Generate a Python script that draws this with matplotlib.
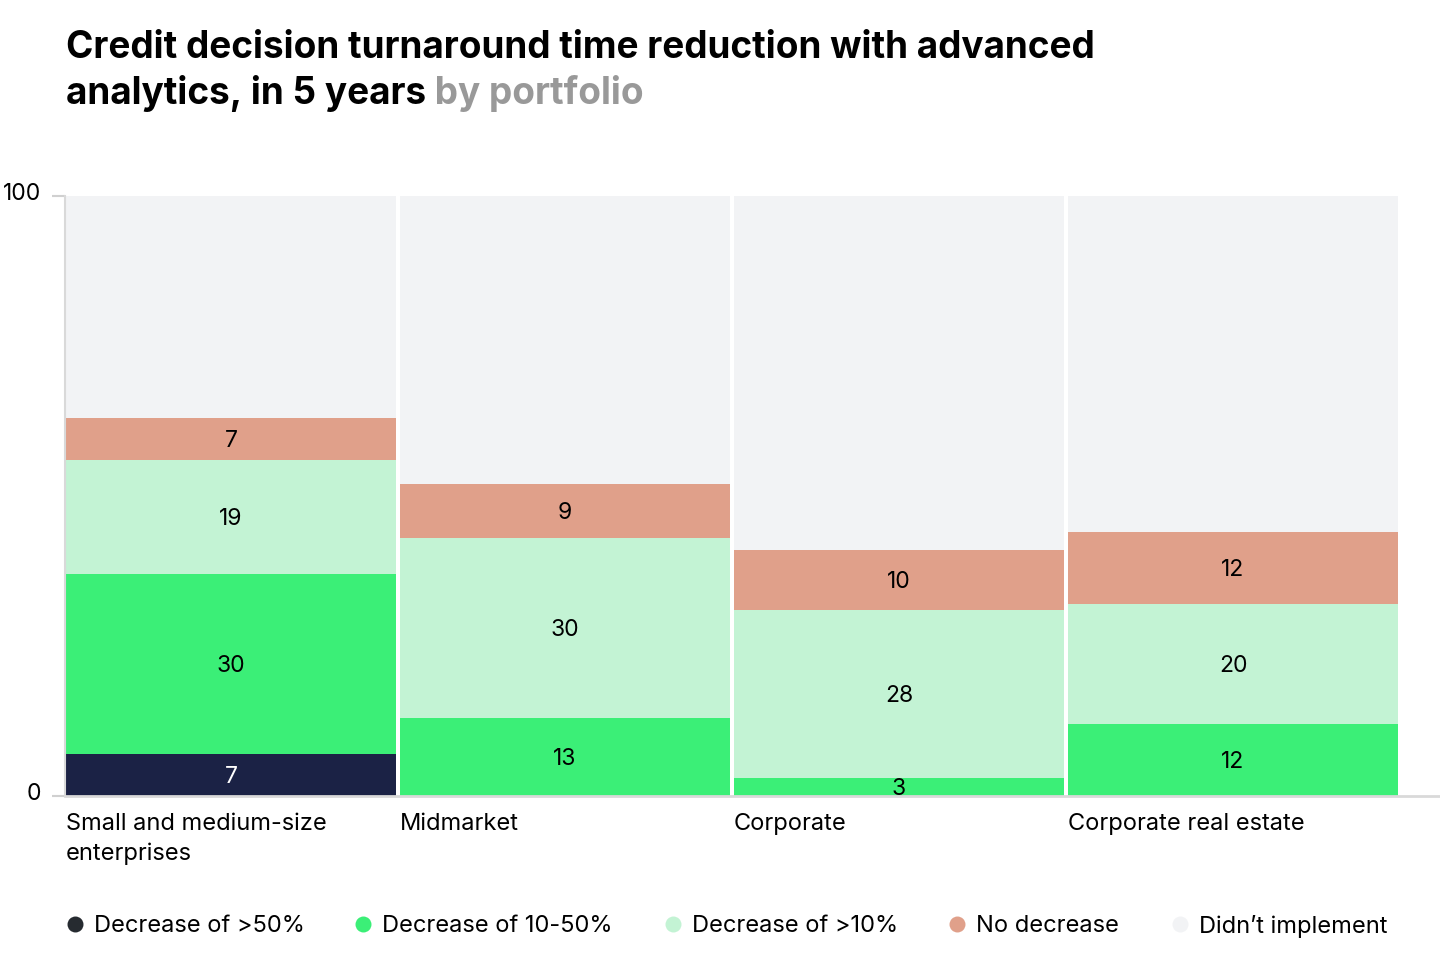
import matplotlib
matplotlib.use("Agg")
import matplotlib.pyplot as plt
import numpy as np
from matplotlib.transforms import ScaledTranslation

plt.rcParams['font.family'] = ['Inter', 'DejaVu Sans']

categories = ["Small and medium-size\nenterprises", "Midmarket", "Corporate", "Corporate real estate"]
series_names = ["Decrease of >50%", "Decrease of 10-50%", "Decrease of >10%", "No decrease", "Didn\u2019t implement"]
dec_gt50 = [7, 0, 0, 0]
dec_10_50 = [30, 13, 3, 12]
dec_lt10 = [19, 30, 28, 20]
no_decrease = [7, 9, 10, 12]
didnt_implement = [37, 48, 59, 56]
series = [dec_gt50, dec_10_50, dec_lt10, no_decrease, didnt_implement]

colors = ["#1b2245", "#3bef77", "#c3f3d4", "#e0a08a", "#f2f3f5"]
legend_colors = ["#262b30", "#3bef77", "#c3f3d4", "#e0a08a", "#f2f3f5"]
label_colors = ["white", "black", "black", "black", None]

W, H = 1440, 968
fig = plt.figure(figsize=(W / 100, H / 100), dpi=100)
ax = fig.add_axes([65 / W, 172 / H, (W - 65) / W, 600 / H])

down2 = ScaledTranslation(0, -2 / 100, fig.dpi_scale_trans)

x = np.arange(len(categories))
width = 330 / 334
bottom = np.zeros(len(categories))
for vals, c, lc in zip(series, colors, label_colors):
    vals = np.array(vals, dtype=float)
    ax.bar(x, vals, width=width, bottom=bottom, color=c, linewidth=0, zorder=2)
    if lc is not None:
        for xi, b, v in zip(x, bottom, vals):
            if v > 0:
                ax.text(xi, b + v / 2, f"{int(v)}", ha="center", va="center",
                        fontsize=16.5, color=lc, zorder=3,
                        transform=ax.transData + down2)
    bottom += vals

ax.set_xlim(-166 / 334, 3 + 207 / 334)
ax.set_ylim(0, 100)

for s in ["top", "right"]:
    ax.spines[s].set_visible(False)
ax.spines["left"].set_color("#d9d9d9")
ax.spines["left"].set_linewidth(1.5)
ax.spines["bottom"].set_color("#d9d9d9")
ax.spines["bottom"].set_linewidth(2)

ax.set_yticks([0, 100])
ax.set_yticklabels(["0", "100"])
ax.tick_params(axis="y", length=9.5, width=1.5, color="#d0d0d0", pad=8, labelsize=16.5)
for lab in ax.get_yticklabels():
    lab.set_transform(lab.get_transform() + ScaledTranslation(0, 5 / 100, fig.dpi_scale_trans))

ax.set_xticks(x - width / 2)
ax.set_xticklabels(categories, ha="left", fontsize=17, linespacing=1.45)
ax.tick_params(axis="x", length=0, pad=12)

# Title
fig.text(66 / W, 1 - 48 / H, "Credit decision turnaround time reduction with advanced",
         fontsize=26.6, fontweight="bold", va="center", ha="left", color="black")
t2 = fig.text(66 / W, 1 - 94 / H, "analytics, in 5 years", fontsize=26.6, fontweight="bold",
              va="center", ha="left", color="black")
ax.annotate(" by portfolio", xy=(1, 0), xycoords=t2, va="bottom", ha="left",
            fontsize=26.6, fontweight="bold", color="#999999", annotation_clip=False)

# Legend
dot_x = [75, 363, 673, 957, 1180]
for name, c, dx in zip(series_names, legend_colors, dot_x):
    fig.lines.append(plt.Line2D([dx / W], [1 - 924 / H], marker="o", markersize=11.5,
                                color=c, markeredgewidth=0, linestyle="none",
                                transform=fig.transFigure))
    fig.text((dx + 19) / W, 1 - 926 / H, name, fontsize=17, va="center", ha="left", color="black")

fig.savefig("out.png", dpi=100, facecolor="white")
